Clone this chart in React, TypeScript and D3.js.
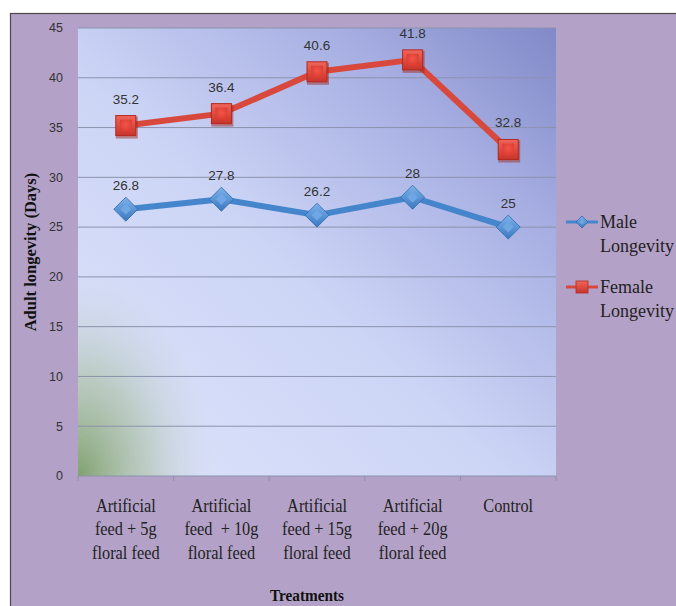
import { useEffect } from "react";
import * as d3 from "d3";

const categories = [
  "Artificial feed + 5g floral feed",
  "Artificial feed + 10g floral feed",
  "Artificial feed + 15g floral feed",
  "Artificial feed + 20g floral feed",
  "Control",
];
const categoryLines = [
  ["Artificial", "feed + 5g", "floral feed"],
  ["Artificial", "feed  + 10g", "floral feed"],
  ["Artificial", "feed + 15g", "floral feed"],
  ["Artificial", "feed + 20g", "floral feed"],
  ["Control"],
];
const maleLongevity = [26.8, 27.8, 26.2, 28, 25];
const femaleLongevity = [35.2, 36.4, 40.6, 41.8, 32.8];
const yTicks = [0, 5, 10, 15, 20, 25, 30, 35, 40, 45];

const W = 676;
const H = 606;
const plot = { left: 78, right: 556, top: 28, bottom: 476 };

const App = () => {
  useEffect(() => {
    document.body.style.margin = "0";
  }, []);

  const x = d3.scaleBand<string>().domain(categories).range([plot.left, plot.right]);
  const y = d3.scaleLinear().domain([0, 45]).range([plot.bottom, plot.top]);
  const cx = (i: number) => (x(categories[i]) ?? 0) + x.bandwidth() / 2;

  const line = d3
    .line<number>()
    .x((_, i) => cx(i))
    .y((d) => y(d));

  const sans = "'Liberation Sans', Arial, sans-serif";
  const serif = "'Liberation Serif', 'DejaVu Serif', serif";

  const square = (px: number, py: number, key: string) => (
    <g key={key}>
      <rect x={px - 11} y={py - 11} width={22} height={22} fill="#9e2a20" opacity={0.5} transform="translate(1,2)" />
      <rect x={px - 10} y={py - 10} width={20} height={20} fill="url(#sqGrad)" stroke="#b3291f" strokeWidth={1} />
      <rect x={px - 6} y={py - 6} width={12} height={12} fill="url(#sqInner)" />
    </g>
  );

  const diamond = (px: number, py: number, key: string, r = 12) => (
    <g key={key}>
      <path d={`M${px},${py - r}L${px + r},${py}L${px},${py + r}L${px - r},${py}Z`} fill="url(#dmGrad)" stroke="#2f6aa8" strokeWidth={0.8} />
      <path d={`M${px},${py - r * 0.45}L${px + r * 0.45},${py}L${px},${py + r * 0.45}L${px - r * 0.45},${py}Z`} fill="#6fa6e4" />
    </g>
  );

  return (
    <svg width={W} height={H} style={{ position: "fixed", left: 0, top: 0, display: "block" }}>
      <defs>
        <linearGradient id="plotGrad" x1="0" y1="1" x2="1" y2="0">
          <stop offset="0" stopColor="#dde3fb" />
          <stop offset="0.45" stopColor="#cdd5f6" />
          <stop offset="0.75" stopColor="#a9b1e4" />
          <stop offset="1" stopColor="#8189c8" />
        </linearGradient>
        <radialGradient
          id="greenGrad"
          gradientUnits="userSpaceOnUse"
          cx={plot.left}
          cy={plot.bottom}
          r={150}
          gradientTransform={`translate(${plot.left},${plot.bottom}) scale(1,1.5) translate(${-plot.left},${-plot.bottom})`}
        >
          <stop offset="0" stopColor="#7b9e68" stopOpacity={0.95} />
          <stop offset="0.45" stopColor="#a4bb98" stopOpacity={0.55} />
          <stop offset="1" stopColor="#dde3fb" stopOpacity={0} />
        </radialGradient>
        <linearGradient id="sqGrad" x1="0" y1="0" x2="0" y2="1">
          <stop offset="0" stopColor="#f0665a" />
          <stop offset="1" stopColor="#c8342a" />
        </linearGradient>
        <radialGradient id="sqInner" cx="0.5" cy="0.4" r="0.6">
          <stop offset="0" stopColor="#f2554a" />
          <stop offset="1" stopColor="#dc3c31" />
        </radialGradient>
        <linearGradient id="dmGrad" x1="0" y1="0" x2="0" y2="1">
          <stop offset="0" stopColor="#7db3ec" />
          <stop offset="1" stopColor="#3b78c0" />
        </linearGradient>
      </defs>

      <rect x={0} y={0} width={W} height={H} fill="#ffffff" />
      <rect x={10.5} y={13.5} width={W + 10} height={H + 10} fill="#b3a1c7" stroke="#4a4a4a" strokeWidth={1.2} />

      {/* plot area */}
      <rect x={plot.left} y={plot.top} width={plot.right - plot.left} height={plot.bottom - plot.top} fill="url(#plotGrad)" />
      <rect x={plot.left} y={plot.top} width={plot.right - plot.left} height={plot.bottom - plot.top} fill="url(#greenGrad)" />

      {/* gridlines */}
      {yTicks.map((t) => (
        <line key={`g${t}`} x1={plot.left} x2={plot.right} y1={y(t)} y2={y(t)} stroke="#8c92ad" strokeWidth={1} />
      ))}
      {/* x-axis ticks */}
      {[...categories.map((c) => x(c) ?? 0), plot.right].map((px, i) => (
        <line key={`xt${i}`} x1={px} x2={px} y1={plot.bottom} y2={plot.bottom + 5} stroke="#8c92ad" strokeWidth={1} />
      ))}

      {/* y tick labels */}
      {yTicks.map((t) => (
        <text key={`yl${t}`} x={63} y={y(t)} dy="0.35em" textAnchor="end" fontFamily={sans} fontSize={12.5} fill="#333">
          {t}
        </text>
      ))}

      {/* category labels (condensed serif) */}
      {categoryLines.map((lines, i) => (
        <g key={`cl${i}`} transform={`translate(${cx(i)},0) scale(0.86,1)`}>
          <text textAnchor="middle" fontFamily={serif} fontSize={19} fill="#222">
            {lines.map((l, j) => (
              <tspan key={j} x={0} y={512 + j * 23.5} style={{ whiteSpace: "pre" }}>
                {l}
              </tspan>
            ))}
          </text>
        </g>
      ))}

      {/* axis titles */}
      <g transform={`translate(${plot.left + (plot.right - plot.left) / 2 - 10},0) scale(0.9,1)`}>
        <text x={0} y={601} textAnchor="middle" fontFamily={serif} fontSize={17} fontWeight="bold" fill="#111">
          Treatments
        </text>
      </g>
      <text transform={`translate(36,${(plot.top + plot.bottom) / 2}) rotate(-90)`} textAnchor="middle" fontFamily={serif} fontSize={16.5} fontWeight="bold" fill="#111">
        Adult longevity (Days)
      </text>

      {/* series lines */}
      <path d={line(femaleLongevity) ?? ""} fill="none" stroke="#d9483c" strokeWidth={6} strokeLinejoin="round" />
      <path d={line(maleLongevity) ?? ""} fill="none" stroke="#4585cc" strokeWidth={6} strokeLinejoin="round" />

      {femaleLongevity.map((v, i) => square(cx(i), y(v), `f${i}`))}
      {maleLongevity.map((v, i) => diamond(cx(i), y(v), `m${i}`))}

      {/* data labels */}
      {femaleLongevity.map((v, i) => (
        <text key={`fl${i}`} x={cx(i)} y={y(v) - 22} textAnchor="middle" fontFamily={sans} fontSize={13.5} fill="#333">
          {v}
        </text>
      ))}
      {maleLongevity.map((v, i) => (
        <text key={`ml${i}`} x={cx(i)} y={y(v) - 19} textAnchor="middle" fontFamily={sans} fontSize={13.5} fill="#333">
          {v}
        </text>
      ))}

      {/* legend */}
      <line x1={566} x2={598} y1={222} y2={222} stroke="#4585cc" strokeWidth={3} />
      {diamond(582, 222, "legm", 6)}
      <text fontFamily={serif} fontSize={18} fill="#222">
        <tspan x={600} y={228}>Male</tspan>
        <tspan x={600} y={252}>Longevity</tspan>
      </text>
      <line x1={566} x2={598} y1={287} y2={287} stroke="#d9483c" strokeWidth={3} />
      <rect x={576} y={281} width={12} height={12} fill="url(#sqGrad)" stroke="#b3291f" strokeWidth={0.8} />
      <text fontFamily={serif} fontSize={18} fill="#222">
        <tspan x={600} y={293}>Female</tspan>
        <tspan x={600} y={317}>Longevity</tspan>
      </text>
    </svg>
  );
};

export default App;
